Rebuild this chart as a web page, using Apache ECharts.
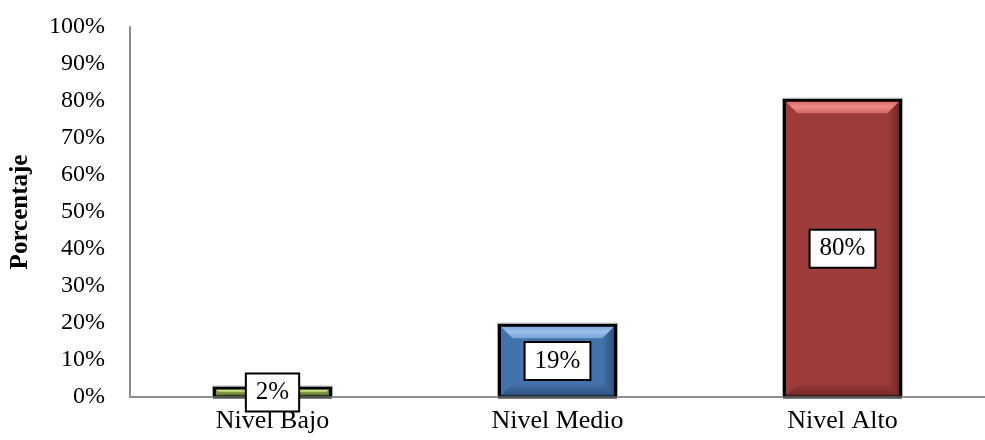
<!DOCTYPE html>
<html>
<head>
<meta charset="utf-8">
<script src="https://cdn.jsdelivr.net/npm/echarts@6/dist/echarts.min.js"></script>
<style>html,body{margin:0;padding:0;background:#fff}#c{width:985px;height:440px}</style>
</head>
<body>
<div id="c"></div>
<script>
const categories = ['Nivel Bajo', 'Nivel Medio', 'Nivel Alto'];
const values = [2.4, 19.4, 80.2];
const valueLabels = ['2%', '19%', '80%'];
const yTicks = [0, 10, 20, 30, 40, 50, 60, 70, 80, 90, 100];

const palette = [
  {base: '#77933c', light: '#a9c566', lighter: '#c2dc80', dark: '#4f6426'},
  {base: '#4373ad', light: '#7aa4d8', lighter: '#9cc0ea', dark: '#2a4c78'},
  {base: '#9d3c3a', light: '#d46762', lighter: '#ee8a84', dark: '#6a2524'}
];
const FONT = '"Liberation Serif", "Times New Roman", serif';

const chart = echarts.init(document.getElementById('c'));

function renderItem(params, api) {
  const idx = params.dataIndex;
  const top = api.coord([api.value(0), api.value(1)]);
  const bot = api.coord([api.value(0), 0]);
  const bw = api.size([1, 0])[0] * 0.407;
  const x0 = top[0] - bw / 2, x1 = top[0] + bw / 2;
  const y0 = top[1], y1 = bot[1];
  const h = y1 - y0;
  const b = Math.min(13, h / 2, bw / 2);
  const c = palette[idx];
  return {
    type: 'group',
    children: [
      {type: 'rect', shape: {x: x0, y: y0, width: bw, height: h}, style: {fill: c.base}},
      {type: 'polygon', shape: {points: [[x0, y0], [x1, y0], [x1 - b, y0 + b], [x0 + b, y0 + b]]},
        style: {fill: new echarts.graphic.LinearGradient(0, 0, 0, 1, [{offset: 0, color: c.light}, {offset: 0.5, color: c.lighter}, {offset: 1, color: c.light}])}},
      {type: 'polygon', shape: {points: [[x1, y0], [x1, y1], [x1 - b, y1 - b], [x1 - b, y0 + b]]},
        style: {fill: new echarts.graphic.LinearGradient(0, 0, 1, 0, [{offset: 0, color: c.base}, {offset: 1, color: c.dark}])}},
      {type: 'polygon', shape: {points: [[x0, y1], [x0 + b, y1 - b], [x1 - b, y1 - b], [x1, y1]]},
        style: {fill: new echarts.graphic.LinearGradient(0, 0, 0, 1, [{offset: 0, color: c.base}, {offset: 1, color: c.dark}])}},
      {type: 'rect', shape: {x: x0, y: y0, width: bw, height: h},
        style: {fill: null, stroke: '#000', lineWidth: 3}},
      {type: 'rect', shape: {x: x0 - 2, y: y0 - 2, width: bw + 4, height: h + 2},
        style: {fill: null, stroke: '#a8a8a8', lineWidth: 1}},
      {type: 'text', x: top[0], y: (y0 + y1) / 2,
        style: {text: valueLabels[idx], align: 'center', verticalAlign: 'middle',
          font: '25px ' + FONT, fill: '#000', backgroundColor: '#fff',
          borderColor: '#000', borderWidth: 2, padding: [6, 9, 5, 9]}}
    ]
  };
}

chart.setOption({
  animation: false,
  grid: {left: 128, top: 27, width: 870, height: 370},
  xAxis: {
    type: 'category', data: categories,
    axisLine: {lineStyle: {color: '#8e8e8e', width: 2}},
    axisTick: {show: false},
    axisLabel: {color: '#000', fontFamily: FONT, fontSize: 26, margin: 11}
  },
  yAxis: {
    type: 'value', min: 0, max: 100, interval: 10,
    name: 'Porcentaje', nameLocation: 'middle', nameGap: 97, nameRotate: 90,
    nameTextStyle: {color: '#000', fontFamily: FONT, fontSize: 25, fontWeight: 'bold'},
    axisLine: {show: true, lineStyle: {color: '#8e8e8e', width: 2}},
    axisTick: {show: false},
    splitLine: {show: false},
    axisLabel: {color: '#000', fontFamily: FONT, fontSize: 24, margin: 25,
      formatter: v => yTicks.includes(v) ? v + '%' : ''}
  },
  series: [{
    type: 'custom',
    renderItem: renderItem,
    data: values.map((v, i) => [i, v]),
    z: 3
  }]
});
</script>
</body>
</html>
